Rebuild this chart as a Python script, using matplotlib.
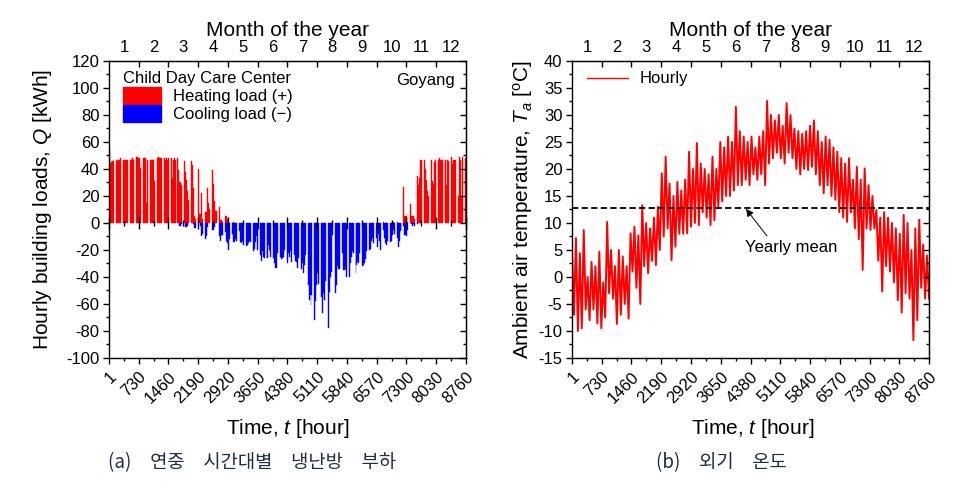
import numpy as np
import matplotlib
import matplotlib.patches as mpatches
from matplotlib import pyplot as plt
from matplotlib.lines import Line2D
from matplotlib.ticker import MultipleLocator, FixedLocator

matplotlib.use('Agg')
plt.rcParams['font.family'] = ['Liberation Sans', 'DejaVu Sans']
plt.rcParams['mathtext.fontset'] = 'custom'
plt.rcParams['mathtext.rm'] = 'Liberation Sans'
plt.rcParams['mathtext.it'] = 'Liberation Sans:italic'
plt.rcParams['axes.unicode_minus'] = False

hour_ticks = [1, 730, 1460, 2190, 2920, 3650, 4380, 5110, 5840, 6570, 7300, 8030, 8760]
hour_labels = [str(h) for h in hour_ticks]
month_labels = [str(m) for m in range(1, 13)]

# daily peak heating load [kWh], one row per week (Mon..Sun), last row = day 365
heat_weeks = [
    [54, 44, 45, 46, 46, 0, 0], [47, 46, 47, 47, 48, 0, 0], [47, 47, 47, 47, 47, 0, 0],
    [47, 47, 48, 48, 47, 0, 0], [49, 49, 48, 48, 41, 0, 0], [48, 48, 48, 15, 47, 0, 0],
    [47, 47, 47, 47, 31, 0, 0], [48, 49, 48, 48, 48, 0, 0], [48, 47, 48, 47, 48, 0, 0],
    [48, 33, 47, 48, 47, 0, 0], [48, 39, 30, 30, 28, 0, 0], [46, 38, 32, 24, 17, 0, 0],
    [46, 43, 26, 5, 3, 0, 0], [40, 7, 7, 22, 3, 0, 0], [8, 8, 26, 15, 10, 0, 0],
    [39, 29, 16, 9, 9, 0, 0], [12, 2, 2, 2, 1, 0, 0], [5, 5, 3, 0, 0, 0, 0],
    [0, 1, 0, 0, 0, 0, 0], [0, 0, 0, 0, 0, 0, 0], [0, 0, 0, 0, 0, 0, 0],
    [0, 0, 0, 0, 0, 0, 0], [0, 0, 0, 0, 0, 0, 0], [0, 0, 0, 0, 0, 0, 0],
    [0, 0, 0, 0, 0, 0, 0], [0, 0, 0, 0, 0, 0, 0], [0, 0, 0, 0, 0, 0, 0],
    [0, 0, 0, 0, 0, 0, 0], [0, 0, 0, 0, 0, 0, 0], [0, 0, 0, 0, 0, 0, 0],
    [0, 0, 0, 0, 0, 0, 0], [0, 0, 0, 0, 0, 0, 0], [0, 0, 0, 0, 0, 0, 0],
    [0, 0, 0, 0, 0, 0, 0], [0, 0, 0, 0, 0, 0, 0], [0, 0, 0, 0, 0, 0, 0],
    [0, 0, 0, 0, 0, 0, 0], [0, 0, 0, 0, 0, 0, 0], [0, 0, 0, 0, 0, 0, 0],
    [0, 0, 0, 0, 0, 0, 0], [1, 0, 0, 0, 0, 0, 0], [0, 0, 1, 1, 0, 0, 0],
    [1, 0, 0, 0, 0, 0, 0], [27, 5, 5, 5, 1, 0, 0], [14, 5, 5, 5, 3, 0, 0],
    [35, 28, 33, 47, 47, 0, 0], [47, 40, 32, 24, 20, 0, 0], [47, 31, 29, 45, 47, 0, 0],
    [47, 48, 47, 47, 47, 0, 0], [47, 47, 28, 47, 46, 0, 0], [49, 44, 47, 47, 47, 0, 0],
    [20, 49, 47, 20, 49, 0, 0], [48],
]

# daily peak cooling load [kWh] (negative), same layout
cool_weeks = [
    [0, 0, 0, 0, 0, 0, 0], [0, 0, 0, 0, 0, 0, 0], [0, 0, 0, 0, 0, 0, 0],
    [0, 0, 0, 0, 0, 0, 0], [0, 0, 0, 0, 0, 0, 0], [0, 0, 0, 0, 0, 0, 0],
    [0, 0, 0, 0, 0, 0, 0], [0, 0, 0, 0, 0, 0, 0], [0, 0, 0, 0, 0, 0, 0],
    [0, 0, 0, 0, 0, 0, 0], [0, 0, -2, -2, -1, 0, 0], [0, -3, -3, -2, 0, 0, 0],
    [0, 0, -1, -4, -4, 0, 0], [0, 0, -2, -10, -8, 0, 0], [-12, -10, -3, 0, 0, 0, 0],
    [-5, -5, -3, 0, 0, 0, 0], [-10, -13, -9, -10, -9, 0, 0], [-7, -13, -15, -20, -12, 0, 0],
    [-8, -14, -14, -12, -13, 0, 0], [-6, -14, -15, -13, -16, 0, 0], [-17, -16, -15, -13, -14, 0, 0],
    [-21, -19, -14, -10, -20, 0, 0], [-24, -28, -21, -25, -26, 0, 0], [-26, -26, -16, -20, -25, 0, 0],
    [-26, -30, -33, -33, -22, 0, 0], [-25, -27, -26, -25, -20, 0, 0], [-30, -22, -25, -21, -29, 0, 0],
    [-24, -28, -29, -33, -26, 0, 0], [-34, -30, -37, -31, -24, 0, 0], [-46, -57, -53, -61, -53, 0, 0],
    [-72, -58, -46, -37, -45, 0, 0], [-55, -67, -52, -57, -43, 0, 0], [-78, -51, -40, -36, -9, 0, 0],
    [-52, -46, -32, -34, -34, 0, 0], [-22, -35, -35, -34, -40, 0, 0], [-40, -30, -25, -21, -22, 0, 0],
    [-37, -31, -29, -30, -22, 0, 0], [-32, -31, -30, -27, -21, 0, 0], [-20, -19, -13, -11, -15, 0, 0],
    [-11, -18, -8, -13, -20, 0, 0], [-5, -11, -15, -16, -13, 0, 0], [-14, -13, -9, -5, -8, 0, 0],
    [-11, -18, -13, -6, -5, 0, 0], [-2, -9, -9, -10, -5, 0, 0], [0, -1, -2, -1, -2, 0, 0],
    [-1, 0, 0, 0, 0, 0, 0], [0, 0, 0, 0, 0, 0, 0], [0, 0, 0, 0, 0, 0, 0],
    [0, 0, 0, 0, 0, 0, 0], [0, 0, 0, 0, 0, 0, 0], [0, 0, 0, 0, 0, 0, 0],
    [0, 0, 0, 0, 0, 0, 0], [0],
]

# ambient temperature [degC]: highest / lowest value in each 4-day window
t_high = [5, 7.2, 4.4, 8.7, 0, 2.8, 2, 4.7, -1, 10.2, 5, 2, 5, 3.8, 2, 8.1, 9.3, 7.7, 13.3, 10,
          9, 11, 13, 19.2, 22.3, 17.3, 15, 17.6, 16, 18,
          23.2, 20, 24.8, 21, 20, 19, 22.3, 20, 25, 24, 26, 25, 31.5, 27, 26, 25, 26, 24, 26, 27,
          32.6, 30, 29, 30, 28, 32.2, 30, 27.5, 27, 26.5, 27,
          28, 29, 27, 25, 26, 25.4, 24, 23.2, 22, 21, 22, 18, 20.4, 18, 20.1, 17, 15, 12.4, 11, 12,
          11, 10, 9, 8, 11.5, 10, 5, 9, 10.6, 6, 4]
t_low = [-7, -10, -9.5, -6, -8, -6, -8.6, -9.5, -7.5, -3, -4, -8.7, -7, -5, -7.7, 1, -2, -5, 2, 0.7,
         3, 2.2, 5, 7.5, 9, 3.1, 5.6, 8, 8, 8.1,
         9.3, 10, 9.6, 12, 11, 9.6, 10.5, 13, 14, 15, 15, 16, 17, 17, 18, 17, 19, 18, 19, 17,
         21, 22, 23, 22, 21, 23, 22, 20, 19, 20, 19.8,
         20.4, 19, 17, 15.5, 17, 15, 14.3, 12, 11, 10.2, 12, 9, 7, 1.3, 9, 8.7, 9, 3, -2.7, 2,
         1, -1, -4.3, -6.6, -3, -4, -11.7, -8, -2, -4, -4]
t_mean = 12.8


def style_axes(ax, yticks, yminor):
    ax.set_xlim(hour_ticks[0], hour_ticks[-1])
    ax.set_ylim(yticks[0], yticks[-1])
    ax.set_xticks(hour_ticks)
    ax.set_xticklabels(hour_labels, rotation=45, ha='right', va='top', rotation_mode='anchor')
    ax.xaxis.set_minor_locator(FixedLocator([h + 365 for h in hour_ticks[:-1]]))
    ax.set_yticks(yticks)
    ax.yaxis.set_minor_locator(MultipleLocator(yminor))
    ax.tick_params(which='both', direction='out', top=False, right=False, labelsize=12, width=1)
    ax.tick_params(which='major', length=4, pad=3)
    ax.tick_params(which='minor', length=2.5)
    ax.tick_params(axis='x', which='major', pad=4)
    for s in ax.spines.values():
        s.set_linewidth(1)

    top = ax.secondary_xaxis('top')
    top.set_ticks([h + 365 for h in hour_ticks[:-1]], labels=month_labels)
    top.xaxis.set_minor_locator(FixedLocator(hour_ticks[1:-1]))
    top.tick_params(which='major', length=0, pad=4, labelsize=12)
    top.tick_params(which='minor', direction='in', length=4, width=1)
    top.set_xlabel('Month of the year', fontsize=15, labelpad=3)
    top.set_zorder(3)

    right = ax.secondary_yaxis('right')
    right.set_ticks(yticks)
    right.yaxis.set_minor_locator(MultipleLocator(yminor))
    right.tick_params(which='both', direction='in', labelright=False, width=1)
    right.tick_params(which='major', length=4)
    right.tick_params(which='minor', length=2.5)
    right.set_zorder(3)


fig = plt.figure(figsize=(9.64, 4.97), dpi=100)

# (a) hourly building loads
ax1 = fig.add_axes([0.1131, 0.2797, 0.3703, 0.5976])
heat = np.concatenate([np.array(w, dtype=float) for w in heat_weeks])
cool = np.concatenate([np.array(w, dtype=float) for w in cool_weeks])
day_hour = np.arange(len(heat)) * 24 + 13
m = heat != 0
ax1.bar(day_hour[m], heat[m], width=24, color='red', edgecolor='red', linewidth=0.3)
m = cool != 0
ax1.bar(day_hour[m], cool[m], width=24, color='blue', edgecolor='blue', linewidth=0.3)
style_axes(ax1, list(range(-100, 121, 20)), 10)

mid = ax1.secondary_xaxis(100 / 220)
mid.set_ticks(hour_ticks)
mid.xaxis.set_minor_locator(FixedLocator([h + 365 for h in hour_ticks[:-1]]))
mid.tick_params(which='both', direction='inout', labelbottom=False, labeltop=False, width=1)
mid.tick_params(which='major', length=8)
mid.tick_params(which='minor', length=5)
for s in mid.spines.values():
    s.set_visible(False)
mid.set_zorder(3)

ax1.set_xlabel('Time, $t$ [hour]', fontsize=15)
ax1.xaxis.set_label_coords(0.5, -0.2)
ax1.set_ylabel('Hourly building loads, $Q$ [kWh]', fontsize=15)
ax1.yaxis.set_label_coords(-0.155, 0.5)

handles = [mpatches.Patch(color='red', label='Heating load (+)'),
           mpatches.Patch(color='blue', label='Cooling load (\u2212)')]
leg = ax1.legend(handles=handles, title='Child Day Care Center', loc='upper left',
                 bbox_to_anchor=(0.039, 0.965), frameon=False, fontsize=12, title_fontsize=12,
                 handlelength=2.3, handleheight=1.15, handletextpad=0.7, labelspacing=0.05,
                 borderpad=0, borderaxespad=0)
leg._legend_box.align = 'left'
ax1.text(0.969, 0.933, 'Goyang', transform=ax1.transAxes, ha='right', va='center', fontsize=12)

# (b) ambient air temperature
ax2 = fig.add_axes([0.5934, 0.2797, 0.3703, 0.5976])
temps = np.empty(len(t_high) + len(t_low))
temps[0::2] = t_high
temps[1::2] = t_low
hours = np.linspace(hour_ticks[0], hour_ticks[-1], len(temps))
ax2.plot(hours, temps, color='red', lw=1.4, label='Hourly')
ax2.axhline(t_mean, color='black', ls=(0, (3.5, 1.8)), lw=1.3)
style_axes(ax2, list(range(-15, 41, 5)), 2.5)

ax2.annotate('', xy=(4269, t_mean - 0.2), xytext=(4784, 7.6),
             arrowprops=dict(arrowstyle='-|>', color='black', lw=0.7, mutation_scale=11,
                             shrinkA=0, shrinkB=0))
ax2.text(4245, 5.4, 'Yearly mean', ha='left', va='center', fontsize=12)

ax2.set_xlabel('Time, $t$ [hour]', fontsize=15)
ax2.xaxis.set_label_coords(0.507, -0.2)
ax2.set_ylabel('Ambient air temperature, $T_a$ [$^\\mathrm{o}$C]', fontsize=15)
ax2.yaxis.set_label_coords(-0.104, 0.5)
ax2.legend(handles=[Line2D([], [], color='red', lw=1)], labels=['Hourly'], loc='upper left',
           bbox_to_anchor=(0.042, 0.965), frameon=False, fontsize=12, handlelength=2.45,
           handletextpad=0.7, borderpad=0, borderaxespad=0)

cap_font = ['Noto Sans CJK KR', 'DejaVu Sans']
fig.text(252 / 964, 1 - 463 / 497, '(a)\u3000연중\u3000시간대별\u3000냉난방\u3000부하', ha='center',
         va='center', fontsize=13.5, family=cap_font, color='#222b45')
fig.text(721 / 964, 1 - 463 / 497, '(b)\u3000외기\u3000온도', ha='center',
         va='center', fontsize=13.5, family=cap_font, color='#222b45')

fig.savefig('out.png', dpi=100)
